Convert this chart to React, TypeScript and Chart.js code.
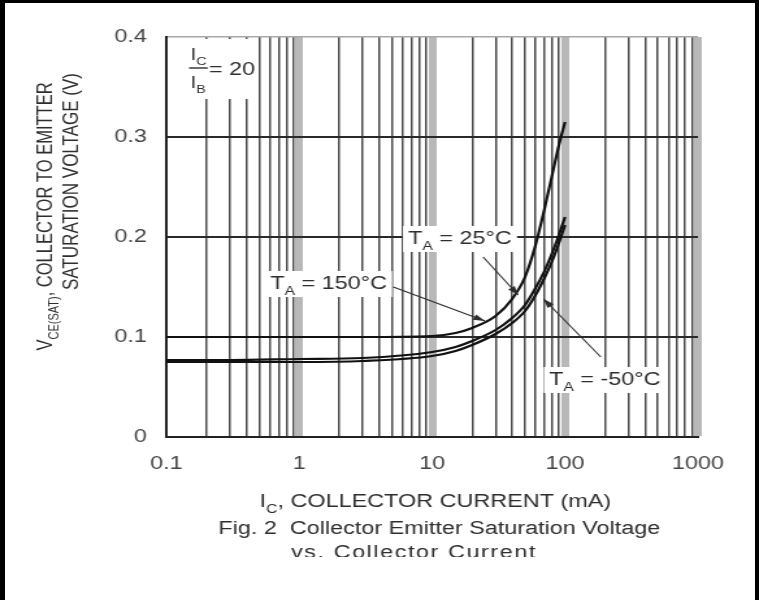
import React, { useEffect, useRef } from 'react';
import { Chart, registerables } from 'chart.js';

Chart.register(...registerables);

// ---------------- data ----------------
const IC_MA = [0.1, 0.3, 1, 3, 10, 15, 20, 30, 40, 50, 60, 70, 80, 90, 100];
const VCE_150C = [0.1, 0.1, 0.1, 0.1, 0.101, 0.104, 0.109, 0.121, 0.138, 0.16, 0.192, 0.228, 0.262, 0.292, 0.315];
const VCE_25C = [0.077, 0.077, 0.078, 0.079, 0.085, 0.09, 0.096, 0.107, 0.119, 0.132, 0.149, 0.166, 0.184, 0.202, 0.22];
const VCE_M50C = [0.075, 0.075, 0.075, 0.076, 0.081, 0.086, 0.092, 0.103, 0.114, 0.126, 0.142, 0.159, 0.176, 0.194, 0.212];
const SERIES_NAMES = ['TA = 150°C', 'TA = 25°C', 'TA = -50°C'];

const X_DECADES = [0.1, 1, 10, 100];
const X_MULTIPLIERS = [1, 2, 3, 4, 5, 6, 7, 8, 9];
const X_MIN = 0.1;
const X_MAX = 1000;
const X_LABEL_VALUES = [0.1, 1, 10, 100, 1000];
const X_TICK_LABELS = ['0.1', '1', '10', '100', '1000'];
const Y_TICK_VALUES = [0, 0.1, 0.2, 0.3, 0.4];
const Y_TICK_LABELS = ['0', '0.1', '0.2', '0.3', '0.4'];

// ---------------- layout / style ----------------
const SCREEN_W = 759;
const H = 600;
const W = 584; // canvas drawn narrower, shown stretched like the scanned original
const FONT = "'Liberation Sans', Arial, Helvetica, sans-serif";
const TEXT = '#2e2e2e';

type Seg = { t: string; sub?: boolean };

const NOTES = [
  { segs: [{ t: 'T' }, { t: 'A', sub: true }, { t: ' = 150°C' }], at: [0.605, 0.154], from: [5.1, 0.15], to: [25, 0.116] },
  { segs: [{ t: 'T' }, { t: 'A', sub: true }, { t: ' = 25°C' }], at: [6.6, 0.199], from: [24.2, 0.18], to: [44.4, 0.142] },
  { segs: [{ t: 'T' }, { t: 'A', sub: true }, { t: ' = -50°C' }], at: [75.8, 0.058], from: [186, 0.08], to: [69, 0.138] },
];
const RATIO_AT = [0.1515, 0.369];
const RATIO_BOX_X = [0.14, 0.45];
const RATIO_BOX_Y = [0.398, 0.338];

const X_GRID: number[] = [];
X_DECADES.forEach((d) => X_MULTIPLIERS.forEach((m) => X_GRID.push(+(d * m).toPrecision(6))));
X_GRID.push(X_MAX);

const isDecade = (v: number) => Math.abs(Math.log10(v) - Math.round(Math.log10(v))) < 1e-6;

function segWidth(ctx: CanvasRenderingContext2D, segs: Seg[], size: number, sub: number) {
  let w = 0;
  for (const s of segs) {
    ctx.font = `${s.sub ? sub : size}px ${FONT}`;
    w += ctx.measureText(s.t).width;
  }
  return w;
}

function drawSegs(
  ctx: CanvasRenderingContext2D,
  segs: Seg[],
  x: number,
  yMid: number,
  size: number,
  sub: number,
  align: 'left' | 'center' | 'right'
) {
  const w = segWidth(ctx, segs, size, sub);
  let cx = align === 'center' ? x - w / 2 : align === 'right' ? x - w : x;
  const base = yMid + size * 0.36;
  ctx.textAlign = 'left';
  ctx.textBaseline = 'alphabetic';
  for (const s of segs) {
    ctx.font = `${s.sub ? sub : size}px ${FONT}`;
    ctx.fillText(s.t, cx, base + (s.sub ? size * 0.3 : 0));
    cx += ctx.measureText(s.t).width;
  }
  return w;
}

function arrow(ctx: CanvasRenderingContext2D, x0: number, y0: number, x1: number, y1: number) {
  ctx.beginPath();
  ctx.moveTo(x0, y0);
  ctx.lineTo(x1, y1);
  ctx.stroke();
  const a = Math.atan2(y1 - y0, x1 - x0);
  const L = 9;
  const hw = 3;
  ctx.beginPath();
  ctx.moveTo(x1, y1);
  ctx.lineTo(x1 - L * Math.cos(a) + hw * Math.sin(a), y1 - L * Math.sin(a) - hw * Math.cos(a));
  ctx.lineTo(x1 - L * Math.cos(a) - hw * Math.sin(a), y1 - L * Math.sin(a) + hw * Math.cos(a));
  ctx.closePath();
  ctx.fill();
}

const notesPlugin = {
  id: 'notes',
  afterDatasetsDraw(chart: any) {
    const ctx: CanvasRenderingContext2D = chart.ctx;
    const xs = chart.scales.x;
    const ys = chart.scales.y;
    ctx.save();

    // Ic / Ib = 20
    const bx0 = xs.getPixelForValue(RATIO_BOX_X[0]);
    const bx1 = xs.getPixelForValue(RATIO_BOX_X[1]);
    const by0 = ys.getPixelForValue(RATIO_BOX_Y[0]);
    const by1 = ys.getPixelForValue(RATIO_BOX_Y[1]);
    ctx.fillStyle = '#fff';
    ctx.fillRect(bx0, by0, bx1 - bx0, by1 - by0);
    ctx.fillStyle = TEXT;
    const lx = xs.getPixelForValue(RATIO_AT[0]);
    const ly = ys.getPixelForValue(RATIO_AT[1]);
    const wC = drawSegs(ctx, [{ t: 'I' }, { t: 'C', sub: true }], lx, ly - 14, 16, 11, 'left');
    drawSegs(ctx, [{ t: 'I' }, { t: 'B', sub: true }], lx, ly + 14, 16, 11, 'left');
    ctx.fillRect(lx - 1, ly - 0.7, wC + 2, 1.4);
    drawSegs(ctx, [{ t: '= 20' }], lx + wC + 2, ly + 1, 18, 12, 'left');

    // temperature notes
    ctx.strokeStyle = TEXT;
    ctx.lineWidth = 1.1;
    for (const n of NOTES) {
      const tx = xs.getPixelForValue(n.at[0]);
      const ty = ys.getPixelForValue(n.at[1]);
      const w = segWidth(ctx, n.segs, 18, 12);
      ctx.fillStyle = '#fff';
      ctx.fillRect(tx - 4, ty - 12, w + 8, 26);
      ctx.fillStyle = TEXT;
      drawSegs(ctx, n.segs, tx, ty, 18, 12, 'left');
      arrow(
        ctx,
        xs.getPixelForValue(n.from[0]),
        ys.getPixelForValue(n.from[1]),
        xs.getPixelForValue(n.to[0]),
        ys.getPixelForValue(n.to[1])
      );
    }
    ctx.restore();
  },
  afterDraw(chart: any) {
    const ctx: CanvasRenderingContext2D = chart.ctx;
    const area = chart.chartArea;
    ctx.save();
    ctx.fillStyle = TEXT;

    // y axis title (two lines, rotated)
    ctx.save();
    ctx.translate(34.5, 216.5);
    ctx.rotate(-Math.PI / 2);
    drawSegs(ctx, [{ t: 'V' }, { t: 'CE(SAT)', sub: true }, { t: ', COLLECTOR TO EMITTER' }], 0, 0, 16.5, 11, 'center');
    ctx.restore();
    ctx.save();
    ctx.translate(54.2, 181.5);
    ctx.rotate(-Math.PI / 2);
    drawSegs(ctx, [{ t: 'SATURATION VOLTAGE (V)' }], 0, 0, 17, 11, 'center');
    ctx.restore();

    // x axis title
    const cx = (area.left + area.right) / 2;
    drawSegs(ctx, [{ t: 'I' }, { t: 'C', sub: true }, { t: ', COLLECTOR CURRENT (mA)' }], cx + 2.5, 501, 18, 12, 'center');

    // caption
    drawSegs(ctx, [{ t: 'Fig. 2  Collector Emitter Saturation Voltage' }], cx + 5.5, 528, 18, 12, 'center');
    ctx.save();
    ctx.beginPath();
    ctx.rect(0, 0, W, 557);
    ctx.clip();
    (ctx as any).letterSpacing = '1.2px';
    drawSegs(ctx, [{ t: 'vs. Collector Current' }], cx - 14, 552, 18, 12, 'center');
    ctx.restore();

    ctx.restore();
  },
};

export default function App() {
  const ref = useRef<HTMLCanvasElement | null>(null);

  useEffect(() => {
    if (!ref.current) return;
    const series = [VCE_150C, VCE_25C, VCE_M50C];
    const chart = new Chart(ref.current, {
      type: 'line',
      data: {
        datasets: series.map((vals, si) => ({
          label: SERIES_NAMES[si],
          data: IC_MA.map((x, i) => ({ x, y: vals[i] })),
          borderColor: '#111',
          borderWidth: 2.2,
          pointRadius: 0,
          fill: false,
          cubicInterpolationMode: 'monotone' as const,
        })),
      },
      options: {
        animation: false,
        responsive: false,
        maintainAspectRatio: false,
        layout: { padding: { top: 37, right: 47, left: 0, bottom: 0 } },
        plugins: {
          legend: { display: false },
          tooltip: { enabled: false },
          title: { display: false },
        },
        scales: {
          x: {
            type: 'logarithmic',
            min: X_MIN,
            max: X_MAX,
            afterBuildTicks: (s: any) => {
              s.ticks = X_GRID.map((v) => ({ value: v }));
            },
            afterFit: (s: any) => {
              s.height = 163;
            },
            ticks: {
              autoSkip: false,
              maxRotation: 0,
              minRotation: 0,
              padding: 16,
              color: '#444',
              font: { family: FONT, size: 18 },
              callback: (v: any) => {
                const i = X_LABEL_VALUES.findIndex((l) => Math.abs(Math.log10(l) - Math.log10(Number(v))) < 1e-6);
                return i >= 0 ? X_TICK_LABELS[i] : '';
              },
            },
            grid: {
              drawTicks: false,
              color: (c: any) => {
                const v = c.tick ? c.tick.value : 0;
                if (Math.abs(v - X_MIN) < 1e-9) return '#222';
                return isDecade(v) ? '#b8b8b8' : '#4a4a4a';
              },
              lineWidth: (c: any) => {
                const v = c.tick ? c.tick.value : 0;
                if (Math.abs(v - X_MIN) < 1e-9) return 2;
                return isDecade(v) ? 6 : 1.5;
              },
            },
            border: { display: true, color: '#222', width: 2 },
          },
          y: {
            type: 'linear',
            min: 0,
            max: 0.4,
            afterBuildTicks: (s: any) => {
              s.ticks = Y_TICK_VALUES.map((v) => ({ value: v }));
            },
            afterFit: (s: any) => {
              s.width = 128;
            },
            ticks: {
              padding: 15,
              color: '#444',
              font: { family: FONT, size: 18 },
              callback: (_v: any, i: number) => Y_TICK_LABELS[i],
            },
            grid: {
              drawTicks: false,
              color: (c: any) => (c.tick && c.tick.value > 0.35 ? '#a8a8a8' : '#2a2a2a'),
              lineWidth: (c: any) => (c.tick && c.tick.value > 0.35 ? 1.5 : 2),
            },
            border: { display: true, color: '#222', width: 2 },
          },
        },
      },
      plugins: [notesPlugin],
    } as any);
    return () => chart.destroy();
  }, []);

  return (
    <div
      style={{
        position: 'absolute',
        left: 0,
        top: 0,
        width: SCREEN_W,
        height: H,
        background: '#fff',
        overflow: 'hidden',
      }}
    >
      <canvas
        ref={ref}
        width={W}
        height={H}
        style={{ position: 'absolute', left: 0, top: 0, width: `${SCREEN_W}px`, height: `${H}px` }}
      />
      <div style={{ position: 'absolute', left: 0, top: 0, width: 5, height: H, background: '#000' }} />
      <div style={{ position: 'absolute', left: 0, top: 0, width: SCREEN_W, height: 3, background: '#000' }} />
      <div style={{ position: 'absolute', right: 0, top: 0, width: 4, height: H, background: '#000' }} />
    </div>
  );
}
